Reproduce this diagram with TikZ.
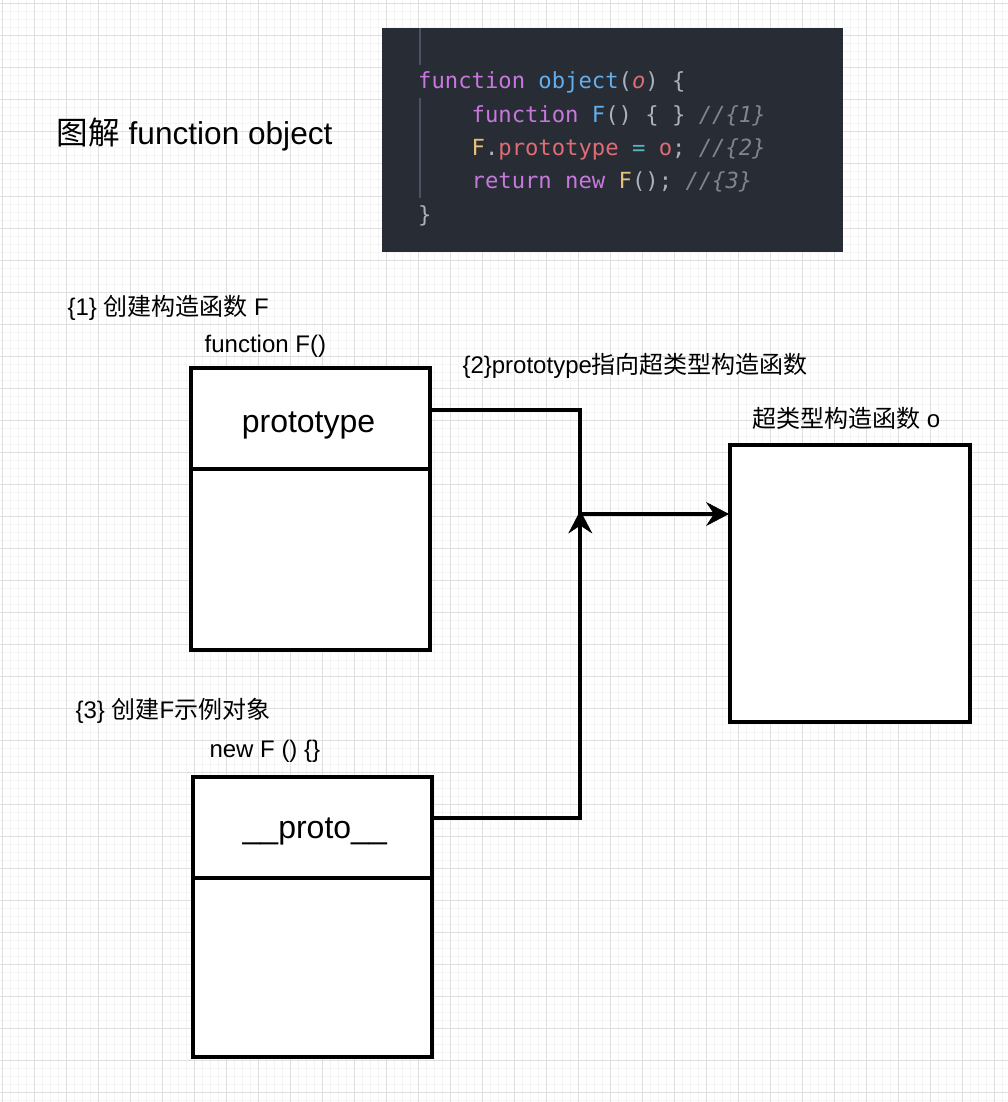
\documentclass[tikz,border=0pt]{standalone}
\usepackage{fontspec}
\setmainfont{Liberation Sans}
\newfontfamily\cjk{Noto Sans CJK SC}
\newfontfamily\codefont{DejaVu Sans Mono}
\usetikzlibrary{arrows.meta}
\definecolor{codebg}{HTML}{282C34}
\definecolor{guide}{HTML}{4B5263}
\definecolor{ckw}{HTML}{C678DD}
\definecolor{cfn}{HTML}{61AFEF}
\definecolor{cpunct}{HTML}{ABB2BF}
\definecolor{cvar}{HTML}{E06C75}
\definecolor{ccls}{HTML}{E5C07B}
\definecolor{cop}{HTML}{56B6C2}
\definecolor{ccom}{HTML}{7F848E}
\definecolor{gridmajor}{HTML}{DFDFDF}
\definecolor{gridminor}{HTML}{F4F4F4}
\newcommand{\kw}[1]{\textcolor{ckw}{#1}}
\newcommand{\fnn}[1]{\textcolor{cfn}{#1}}
\newcommand{\pu}[1]{\textcolor{cpunct}{#1}}
\newcommand{\va}[1]{\textcolor{cvar}{#1}}
\newcommand{\cl}[1]{\textcolor{ccls}{#1}}
\newcommand{\op}[1]{\textcolor{cop}{#1}}
\newcommand{\cm}[1]{\textcolor{ccom}{\itshape #1}}
\begin{document}
\begin{tikzpicture}[x=1pt,y=-1pt,
  box/.style={draw, line width=4pt, fill=white, inner sep=0pt, outer sep=0pt, rectangle},
  lbl/.style={anchor=base west, inner sep=0pt, font=\fontsize{24}{28}\selectfont},
  big/.style={anchor=base west, inner sep=0pt, font=\fontsize{32}{36}\selectfont},
  ttl/.style={anchor=base west, inner sep=0pt, font=\fontsize{31.6}{36}\selectfont},
  codeline/.style={anchor=base west, inner sep=0pt, font=\codefont\fontsize{22.2}{26}\selectfont, text=cpunct},
  link/.style={line width=4pt, -{Stealth[length=23pt,width=24pt,inset=8pt,line width=0.5pt]}}
]
\useasboundingbox (0,0) rectangle (1008,1102);
\fill[white] (0,0) rectangle (1008,1102);
% grid
\foreach \x in {2,10,...,1008} \draw[gridminor, line width=1pt] (\x,0) -- (\x,1102);
\foreach \y in {4,12,...,1102} \draw[gridminor, line width=1pt] (0,\y) -- (1008,\y);
\foreach \x in {2,34,...,1008} \draw[gridmajor, line width=1pt] (\x,0) -- (\x,1102);
\foreach \y in {4,36,...,1102} \draw[gridmajor, line width=1pt] (0,\y) -- (1008,\y);

% code block
\fill[codebg] (382,28) rectangle (842.5,251.5);
\draw[guide, line width=1.5pt] (420,28) -- (420,65);
\draw[guide, line width=1.5pt] (420,98) -- (420,198);
\node[codeline] (c1) at (418,89) {\kw{function} \fnn{object}(\va{\itshape o}) \{};
\node[codeline] (c2) at (418,122.3) {\phantom{xxxx}\kw{function} \fnn{F}() \{ \} \cm{//\{1\}}};
\node[codeline] (c3) at (418,155.6) {\phantom{xxxx}\cl{F}.\va{prototype} \op{=} \va{o}; \cm{//\{2\}}};
\node[codeline] (c4) at (418,189) {\phantom{xxxx}\kw{return} \kw{new} \cl{F}(); \cm{//\{3\}}};
\node[codeline] (c5) at (418,222.3) {\}};

% title
\node[ttl] (title) at (56.5,144.5) {{\cjk 图解} function object};

% boxes
\node[box, minimum width=239.5pt, minimum height=101pt] (Ftop) at (310.25,418.5) {};
\node[box, minimum width=239.5pt, minimum height=180.5pt] (Fbot) at (310.25,559.25) {};
\node[box, minimum width=238.7pt, minimum height=101.5pt] (Ptop) at (312.35,827.25) {};
\node[box, minimum width=238.7pt, minimum height=178.5pt] (Pbot) at (312.35,967.25) {};
\node[box, minimum width=240pt, minimum height=277.5pt] (obox) at (850,583.25) {};

% texts
\node[big] (tproto) at (241.6,432) {prototype};
\node[big] (tdunder) at (242.5,838) {\_\_proto\_\_};
\node[lbl] (l1) at (67.3,315) {\{1\} {\cjk 创建构造函数} F};
\node[lbl] (l1b) at (204.5,352) {function F()};
\node[lbl] (l2) at (462.3,373) {\{2\}prototype{\cjk 指向超类型构造函数}};
\node[lbl] (l2b) at (752,427) {{\cjk 超类型构造函数} o};
\node[lbl] (l3) at (75.3,718) {\{3\} {\cjk 创建}F{\cjk 示例对象}};
\node[lbl] (l3b) at (209.3,757) {new F () \{\}};

% connectors
\coordinate (j) at (580.3,514);
\draw[link, shorten >=1pt] ([yshift=8.5pt]Ftop.east) -| (j) -- (obox.west |- j);
\draw[link] ([yshift=9pt]Ptop.east) -| ([yshift=3.5pt]j);
\end{tikzpicture}
\end{document}
